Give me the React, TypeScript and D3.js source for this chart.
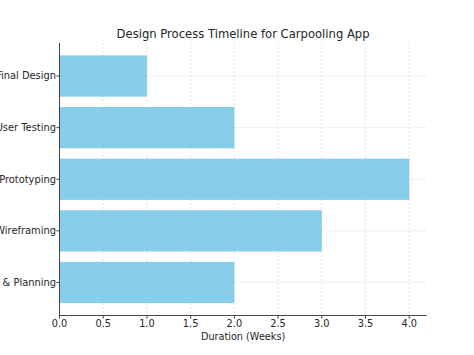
import React from "react";
import * as d3 from "d3";

const categories = ["Research & Planning", "Wireframing", "Prototyping", "User Testing", "Final Design"];
const durations = [2, 3, 4, 2, 1];
const xTicks = [0, 0.5, 1, 1.5, 2, 2.5, 3, 3.5, 4];

const W = 474, H = 355;
const m = { left: 59.5, right: 426.7, top: 43, bottom: 315.5 };
const font = "DejaVu Sans, sans-serif";

export default function App() {
  const x = d3.scaleLinear().domain([0, 4.2]).range([m.left, m.right]);
  const y = d3.scaleLinear().domain([-0.64, 4.64]).range([m.bottom, m.top]);
  const bh = Math.abs(y(0.4) - y(-0.4));
  const textColor = "#262626";
  return (
    <svg width={W} height={H} style={{ position: "absolute", left: 0, top: 0, background: "#fff" }}>
      {categories.map((c, i) => (
        <rect key={c} x={x(0)} y={y(i + 0.4)} width={x(durations[i]) - x(0)} height={bh} fill="#87CEEB" />
      ))}
      <g stroke="#b0b0b0" strokeOpacity={0.45} strokeWidth={0.8} strokeDasharray="2,2">
        {xTicks.map((t) => (
          <line key={t} x1={x(t)} x2={x(t)} y1={m.top} y2={m.bottom} />
        ))}
        {categories.map((c, i) => (
          <line key={c} x1={m.left} x2={m.right} y1={y(i)} y2={y(i)} />
        ))}
      </g>
      <line x1={m.left} x2={m.left} y1={m.top} y2={m.bottom} stroke="#333" strokeWidth={0.9} />
      <line x1={m.left} x2={m.right} y1={m.bottom} y2={m.bottom} stroke="#333" strokeWidth={0.9} />
      {xTicks.map((t) => (
        <g key={t}>
          <line x1={x(t)} x2={x(t)} y1={m.bottom} y2={m.bottom + 3.2} stroke="#333" strokeWidth={0.9} />
          <text x={x(t)} y={326.5} textAnchor="middle" fontFamily={font} fontSize={9.8} fill={textColor}>
            {t.toFixed(1)}
          </text>
        </g>
      ))}
      {categories.map((c, i) => (
        <g key={c}>
          <line x1={m.left - 3.2} x2={m.left} y1={y(i)} y2={y(i)} stroke="#333" strokeWidth={0.9} />
          <text x={56} y={y(i)} dy="0.35em" textAnchor="end" fontFamily={font} fontSize={9.9} fill={textColor}>
            {c}
          </text>
        </g>
      ))}
      <text x={(m.left + m.right) / 2} y={38} textAnchor="middle" fontFamily={font} fontSize={11.6} fill={textColor}>
        Design Process Timeline for Carpooling App
      </text>
      <text x={(m.left + m.right) / 2} y={339.5} textAnchor="middle" fontFamily={font} fontSize={9.7} fill={textColor}>
        Duration (Weeks)
      </text>
    </svg>
  );
}
